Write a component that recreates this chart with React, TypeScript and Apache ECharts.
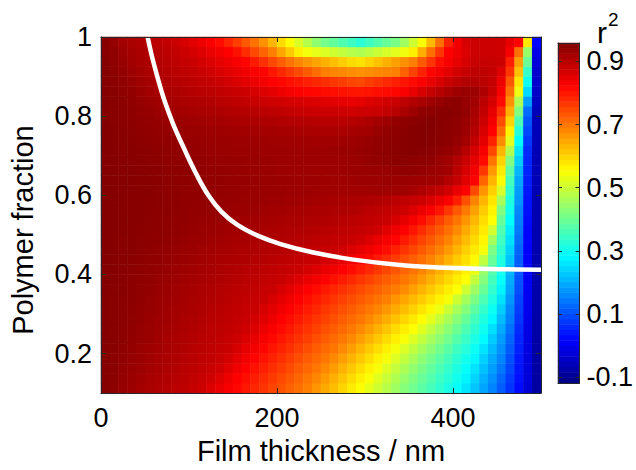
import React, { useEffect, useRef } from 'react';
import * as echarts from 'echarts';

// Film thickness bin centres (nm), 10 nm wide
const thicknessBins = [
  5, 15, 25, 35, 45, 55, 65, 75, 85, 95, 105, 115, 125, 135, 145, 155, 165, 175, 185, 195, 205, 215, 225, 235, 245,
  255, 265, 275, 285, 295, 305, 315, 325, 335, 345, 355, 365, 375, 385, 395, 405, 415, 425, 435, 445, 455, 465, 475, 485, 495,
];
// Polymer fraction bin centres, 0.025 high
const fractionBins = [
  0.1125, 0.1375, 0.1625, 0.1875, 0.2125, 0.2375, 0.2625, 0.2875, 0.3125, 0.3375, 0.3625, 0.3875,
  0.4125, 0.4375, 0.4625, 0.4875, 0.5125, 0.5375, 0.5625, 0.5875, 0.6125, 0.6375, 0.6625, 0.6875,
  0.7125, 0.7375, 0.7625, 0.7875, 0.8125, 0.8375, 0.8625, 0.8875, 0.9125, 0.9375, 0.9625, 0.9875,
];

// r² for each fraction row (bottom to top), one value per thickness bin
const r2Rows: number[][] = [
  [0.951, 0.943, 0.935, 0.928, 0.920, 0.915, 0.909, 0.903, 0.897, 0.891, 0.885, 0.876, 0.861, 0.846, 0.831, 0.816, 0.800, 0.785, 0.769, 0.753, 0.737, 0.721, 0.706, 0.690, 0.667, 0.644, 0.622, 0.599, 0.576, 0.553, 0.528, 0.503, 0.478, 0.452, 0.426, 0.403, 0.381, 0.358, 0.336, 0.313, 0.291, 0.259, 0.224, 0.190, 0.155, 0.113, 0.070, 0.026, -0.027, -0.082],
  [0.951, 0.944, 0.937, 0.930, 0.924, 0.918, 0.912, 0.907, 0.901, 0.895, 0.889, 0.883, 0.872, 0.857, 0.841, 0.825, 0.810, 0.794, 0.779, 0.763, 0.748, 0.732, 0.716, 0.701, 0.683, 0.661, 0.638, 0.616, 0.593, 0.571, 0.549, 0.522, 0.496, 0.470, 0.444, 0.418, 0.395, 0.372, 0.348, 0.325, 0.302, 0.276, 0.240, 0.204, 0.168, 0.126, 0.079, 0.032, -0.023, -0.081],
  [0.952, 0.946, 0.939, 0.933, 0.927, 0.921, 0.916, 0.910, 0.905, 0.899, 0.894, 0.888, 0.883, 0.872, 0.855, 0.838, 0.822, 0.806, 0.791, 0.775, 0.760, 0.745, 0.729, 0.714, 0.698, 0.680, 0.658, 0.636, 0.614, 0.591, 0.569, 0.546, 0.519, 0.492, 0.466, 0.439, 0.413, 0.388, 0.364, 0.340, 0.316, 0.291, 0.257, 0.220, 0.183, 0.142, 0.089, 0.036, -0.021, -0.080],
  [0.953, 0.947, 0.941, 0.935, 0.929, 0.923, 0.918, 0.913, 0.908, 0.903, 0.898, 0.892, 0.887, 0.882, 0.870, 0.853, 0.836, 0.820, 0.804, 0.789, 0.774, 0.758, 0.743, 0.728, 0.713, 0.698, 0.679, 0.657, 0.634, 0.612, 0.590, 0.568, 0.545, 0.517, 0.490, 0.462, 0.435, 0.408, 0.383, 0.357, 0.331, 0.305, 0.277, 0.237, 0.196, 0.156, 0.100, 0.041, -0.019, -0.080],
  [0.953, 0.948, 0.943, 0.937, 0.932, 0.926, 0.921, 0.916, 0.911, 0.906, 0.901, 0.896, 0.891, 0.886, 0.881, 0.866, 0.850, 0.834, 0.818, 0.803, 0.788, 0.773, 0.758, 0.743, 0.728, 0.713, 0.698, 0.679, 0.657, 0.634, 0.612, 0.590, 0.568, 0.544, 0.517, 0.489, 0.461, 0.434, 0.406, 0.379, 0.351, 0.324, 0.296, 0.258, 0.213, 0.168, 0.112, 0.049, -0.015, -0.079],
  [0.953, 0.948, 0.944, 0.939, 0.934, 0.929, 0.923, 0.918, 0.914, 0.909, 0.904, 0.899, 0.895, 0.890, 0.884, 0.878, 0.863, 0.847, 0.831, 0.816, 0.801, 0.786, 0.772, 0.757, 0.742, 0.727, 0.712, 0.697, 0.679, 0.657, 0.635, 0.613, 0.592, 0.570, 0.547, 0.519, 0.490, 0.461, 0.433, 0.404, 0.374, 0.344, 0.314, 0.282, 0.232, 0.181, 0.123, 0.054, -0.013, -0.078],
  [0.953, 0.949, 0.945, 0.941, 0.936, 0.931, 0.926, 0.921, 0.916, 0.912, 0.907, 0.902, 0.897, 0.893, 0.888, 0.883, 0.875, 0.859, 0.844, 0.828, 0.813, 0.799, 0.784, 0.770, 0.755, 0.741, 0.726, 0.712, 0.697, 0.679, 0.658, 0.637, 0.616, 0.594, 0.573, 0.552, 0.522, 0.492, 0.461, 0.431, 0.399, 0.366, 0.333, 0.300, 0.253, 0.196, 0.135, 0.061, -0.010, -0.077],
  [0.953, 0.949, 0.946, 0.942, 0.938, 0.933, 0.928, 0.923, 0.919, 0.914, 0.910, 0.905, 0.900, 0.896, 0.891, 0.886, 0.882, 0.870, 0.856, 0.841, 0.826, 0.811, 0.797, 0.783, 0.769, 0.755, 0.740, 0.726, 0.712, 0.698, 0.681, 0.660, 0.640, 0.619, 0.598, 0.578, 0.557, 0.528, 0.495, 0.462, 0.428, 0.392, 0.355, 0.318, 0.279, 0.215, 0.150, 0.071, -0.005, -0.075],
  [0.953, 0.950, 0.946, 0.943, 0.939, 0.935, 0.930, 0.925, 0.921, 0.917, 0.912, 0.908, 0.903, 0.899, 0.894, 0.890, 0.885, 0.881, 0.867, 0.853, 0.838, 0.824, 0.810, 0.796, 0.782, 0.768, 0.754, 0.740, 0.727, 0.713, 0.699, 0.684, 0.664, 0.644, 0.624, 0.603, 0.583, 0.563, 0.537, 0.499, 0.461, 0.424, 0.382, 0.340, 0.298, 0.234, 0.161, 0.079, -0.002, -0.074],
  [0.953, 0.950, 0.947, 0.944, 0.941, 0.936, 0.931, 0.927, 0.923, 0.919, 0.915, 0.911, 0.906, 0.902, 0.898, 0.893, 0.889, 0.884, 0.880, 0.866, 0.851, 0.837, 0.823, 0.809, 0.796, 0.783, 0.769, 0.756, 0.743, 0.729, 0.716, 0.703, 0.689, 0.669, 0.649, 0.629, 0.608, 0.588, 0.568, 0.546, 0.502, 0.459, 0.415, 0.366, 0.317, 0.256, 0.174, 0.087, 0.001, -0.073],
  [0.954, 0.950, 0.948, 0.945, 0.942, 0.938, 0.934, 0.929, 0.925, 0.921, 0.917, 0.913, 0.909, 0.905, 0.901, 0.897, 0.893, 0.888, 0.884, 0.880, 0.866, 0.852, 0.839, 0.825, 0.812, 0.798, 0.785, 0.772, 0.759, 0.746, 0.733, 0.720, 0.707, 0.694, 0.676, 0.655, 0.634, 0.614, 0.593, 0.573, 0.552, 0.503, 0.451, 0.397, 0.338, 0.276, 0.189, 0.097, 0.005, -0.072],
  [0.954, 0.951, 0.948, 0.945, 0.943, 0.940, 0.936, 0.932, 0.928, 0.923, 0.920, 0.916, 0.913, 0.909, 0.905, 0.901, 0.897, 0.893, 0.889, 0.885, 0.881, 0.871, 0.859, 0.846, 0.834, 0.822, 0.808, 0.795, 0.781, 0.767, 0.754, 0.740, 0.726, 0.713, 0.699, 0.682, 0.661, 0.639, 0.617, 0.596, 0.574, 0.552, 0.490, 0.423, 0.357, 0.292, 0.198, 0.102, 0.008, -0.071],
  [0.954, 0.951, 0.948, 0.946, 0.943, 0.941, 0.938, 0.934, 0.930, 0.926, 0.922, 0.919, 0.916, 0.913, 0.909, 0.906, 0.903, 0.899, 0.895, 0.891, 0.888, 0.884, 0.880, 0.869, 0.858, 0.847, 0.836, 0.825, 0.812, 0.797, 0.781, 0.765, 0.750, 0.734, 0.718, 0.703, 0.685, 0.662, 0.639, 0.615, 0.592, 0.569, 0.533, 0.449, 0.375, 0.306, 0.209, 0.107, 0.012, -0.069],
  [0.954, 0.952, 0.949, 0.947, 0.945, 0.942, 0.940, 0.936, 0.933, 0.929, 0.926, 0.922, 0.919, 0.916, 0.913, 0.911, 0.908, 0.904, 0.901, 0.898, 0.894, 0.891, 0.888, 0.884, 0.881, 0.871, 0.860, 0.849, 0.838, 0.828, 0.815, 0.797, 0.778, 0.760, 0.742, 0.724, 0.706, 0.687, 0.662, 0.637, 0.611, 0.586, 0.560, 0.488, 0.394, 0.319, 0.223, 0.114, 0.012, -0.069],
  [0.954, 0.952, 0.950, 0.948, 0.946, 0.943, 0.941, 0.939, 0.935, 0.932, 0.929, 0.925, 0.922, 0.919, 0.917, 0.914, 0.911, 0.909, 0.906, 0.904, 0.901, 0.898, 0.894, 0.891, 0.888, 0.884, 0.881, 0.873, 0.861, 0.849, 0.838, 0.826, 0.810, 0.790, 0.770, 0.750, 0.730, 0.710, 0.690, 0.662, 0.634, 0.605, 0.577, 0.544, 0.416, 0.335, 0.238, 0.123, 0.016, -0.068],
  [0.954, 0.952, 0.950, 0.948, 0.946, 0.944, 0.943, 0.941, 0.938, 0.935, 0.932, 0.929, 0.926, 0.923, 0.920, 0.918, 0.916, 0.914, 0.911, 0.909, 0.907, 0.904, 0.901, 0.898, 0.895, 0.891, 0.888, 0.885, 0.882, 0.873, 0.860, 0.846, 0.833, 0.819, 0.797, 0.775, 0.753, 0.732, 0.710, 0.687, 0.656, 0.625, 0.594, 0.563, 0.458, 0.353, 0.254, 0.133, 0.020, -0.067],
  [0.954, 0.952, 0.951, 0.949, 0.947, 0.945, 0.944, 0.942, 0.940, 0.938, 0.935, 0.932, 0.929, 0.927, 0.924, 0.922, 0.919, 0.917, 0.915, 0.913, 0.911, 0.909, 0.907, 0.905, 0.902, 0.899, 0.896, 0.892, 0.889, 0.885, 0.882, 0.872, 0.856, 0.839, 0.823, 0.801, 0.777, 0.753, 0.730, 0.706, 0.678, 0.644, 0.610, 0.576, 0.507, 0.370, 0.267, 0.144, 0.020, -0.067],
  [0.954, 0.953, 0.951, 0.949, 0.948, 0.946, 0.945, 0.943, 0.941, 0.940, 0.937, 0.935, 0.933, 0.931, 0.928, 0.926, 0.924, 0.922, 0.920, 0.918, 0.916, 0.914, 0.912, 0.910, 0.908, 0.906, 0.904, 0.900, 0.896, 0.892, 0.889, 0.885, 0.881, 0.867, 0.849, 0.832, 0.810, 0.783, 0.755, 0.728, 0.701, 0.667, 0.629, 0.590, 0.552, 0.393, 0.285, 0.150, 0.026, -0.066],
  [0.954, 0.953, 0.951, 0.950, 0.948, 0.947, 0.945, 0.944, 0.942, 0.941, 0.939, 0.938, 0.936, 0.934, 0.932, 0.930, 0.929, 0.927, 0.925, 0.923, 0.922, 0.920, 0.918, 0.916, 0.914, 0.912, 0.910, 0.908, 0.906, 0.902, 0.897, 0.893, 0.888, 0.883, 0.876, 0.860, 0.844, 0.828, 0.802, 0.767, 0.731, 0.695, 0.653, 0.609, 0.565, 0.420, 0.303, 0.157, 0.032, -0.064],
  [0.954, 0.953, 0.951, 0.950, 0.949, 0.947, 0.946, 0.944, 0.943, 0.941, 0.940, 0.939, 0.938, 0.936, 0.935, 0.934, 0.932, 0.931, 0.930, 0.928, 0.927, 0.925, 0.924, 0.923, 0.921, 0.919, 0.917, 0.915, 0.913, 0.911, 0.909, 0.907, 0.903, 0.897, 0.891, 0.885, 0.878, 0.862, 0.845, 0.828, 0.793, 0.739, 0.685, 0.633, 0.581, 0.463, 0.317, 0.173, 0.034, -0.064],
  [0.954, 0.953, 0.952, 0.950, 0.949, 0.948, 0.946, 0.945, 0.944, 0.942, 0.941, 0.940, 0.939, 0.937, 0.936, 0.935, 0.933, 0.932, 0.931, 0.930, 0.929, 0.928, 0.927, 0.926, 0.925, 0.924, 0.923, 0.923, 0.924, 0.924, 0.924, 0.925, 0.925, 0.924, 0.923, 0.918, 0.909, 0.899, 0.888, 0.872, 0.847, 0.822, 0.745, 0.668, 0.604, 0.515, 0.335, 0.182, 0.041, -0.062],
  [0.954, 0.953, 0.952, 0.951, 0.949, 0.948, 0.947, 0.945, 0.944, 0.943, 0.942, 0.940, 0.939, 0.938, 0.936, 0.935, 0.934, 0.933, 0.932, 0.931, 0.930, 0.929, 0.928, 0.928, 0.927, 0.926, 0.925, 0.925, 0.926, 0.927, 0.928, 0.928, 0.929, 0.930, 0.929, 0.928, 0.926, 0.925, 0.922, 0.903, 0.885, 0.854, 0.820, 0.716, 0.633, 0.558, 0.357, 0.192, 0.047, -0.060],
  [0.954, 0.953, 0.952, 0.951, 0.949, 0.948, 0.947, 0.945, 0.944, 0.943, 0.942, 0.940, 0.939, 0.937, 0.936, 0.935, 0.933, 0.932, 0.930, 0.929, 0.928, 0.927, 0.927, 0.927, 0.926, 0.926, 0.927, 0.928, 0.929, 0.930, 0.932, 0.933, 0.934, 0.937, 0.941, 0.941, 0.937, 0.932, 0.927, 0.922, 0.896, 0.867, 0.836, 0.766, 0.664, 0.576, 0.384, 0.209, 0.051, -0.060],
  [0.954, 0.953, 0.951, 0.950, 0.948, 0.946, 0.945, 0.943, 0.942, 0.941, 0.940, 0.939, 0.937, 0.936, 0.935, 0.934, 0.932, 0.931, 0.930, 0.929, 0.928, 0.928, 0.928, 0.928, 0.927, 0.927, 0.927, 0.927, 0.929, 0.932, 0.936, 0.939, 0.942, 0.944, 0.946, 0.944, 0.942, 0.940, 0.932, 0.924, 0.904, 0.879, 0.849, 0.814, 0.701, 0.600, 0.420, 0.231, 0.055, -0.060],
  [0.954, 0.952, 0.950, 0.949, 0.947, 0.946, 0.944, 0.942, 0.940, 0.939, 0.937, 0.936, 0.934, 0.932, 0.931, 0.930, 0.929, 0.929, 0.928, 0.928, 0.927, 0.927, 0.927, 0.926, 0.927, 0.928, 0.929, 0.930, 0.931, 0.934, 0.937, 0.940, 0.943, 0.946, 0.949, 0.952, 0.949, 0.946, 0.942, 0.937, 0.925, 0.899, 0.866, 0.832, 0.747, 0.632, 0.472, 0.256, 0.060, -0.060],
  [0.954, 0.952, 0.950, 0.947, 0.945, 0.943, 0.941, 0.940, 0.938, 0.936, 0.935, 0.933, 0.932, 0.930, 0.929, 0.928, 0.927, 0.926, 0.926, 0.925, 0.925, 0.924, 0.923, 0.923, 0.922, 0.923, 0.924, 0.926, 0.927, 0.930, 0.934, 0.938, 0.942, 0.945, 0.948, 0.952, 0.955, 0.951, 0.947, 0.943, 0.936, 0.919, 0.888, 0.851, 0.788, 0.676, 0.524, 0.285, 0.074, -0.058],
  [0.954, 0.951, 0.948, 0.946, 0.943, 0.941, 0.939, 0.937, 0.935, 0.933, 0.932, 0.930, 0.928, 0.926, 0.925, 0.923, 0.922, 0.921, 0.920, 0.919, 0.918, 0.917, 0.916, 0.915, 0.914, 0.913, 0.912, 0.914, 0.917, 0.919, 0.922, 0.931, 0.939, 0.943, 0.947, 0.951, 0.954, 0.954, 0.950, 0.945, 0.941, 0.927, 0.901, 0.865, 0.822, 0.713, 0.566, 0.322, 0.091, -0.056],
  [0.953, 0.950, 0.947, 0.944, 0.941, 0.938, 0.936, 0.933, 0.931, 0.928, 0.926, 0.923, 0.921, 0.919, 0.917, 0.915, 0.913, 0.911, 0.910, 0.908, 0.906, 0.904, 0.903, 0.902, 0.900, 0.899, 0.898, 0.899, 0.902, 0.905, 0.912, 0.920, 0.928, 0.937, 0.943, 0.946, 0.950, 0.954, 0.950, 0.946, 0.942, 0.931, 0.908, 0.878, 0.835, 0.743, 0.600, 0.366, 0.107, -0.056],
  [0.953, 0.950, 0.946, 0.943, 0.939, 0.935, 0.930, 0.926, 0.922, 0.920, 0.917, 0.915, 0.912, 0.910, 0.907, 0.905, 0.902, 0.899, 0.896, 0.893, 0.890, 0.887, 0.884, 0.881, 0.879, 0.878, 0.877, 0.876, 0.875, 0.876, 0.878, 0.880, 0.888, 0.899, 0.912, 0.926, 0.940, 0.943, 0.947, 0.950, 0.945, 0.938, 0.916, 0.888, 0.849, 0.777, 0.638, 0.420, 0.131, -0.056],
  [0.953, 0.949, 0.945, 0.941, 0.936, 0.930, 0.925, 0.920, 0.917, 0.914, 0.911, 0.908, 0.905, 0.900, 0.896, 0.891, 0.887, 0.882, 0.878, 0.875, 0.872, 0.869, 0.866, 0.862, 0.859, 0.856, 0.853, 0.850, 0.847, 0.849, 0.857, 0.864, 0.872, 0.880, 0.893, 0.905, 0.915, 0.925, 0.935, 0.942, 0.945, 0.934, 0.922, 0.897, 0.866, 0.814, 0.672, 0.472, 0.184, -0.048],
  [0.953, 0.948, 0.943, 0.938, 0.930, 0.922, 0.918, 0.914, 0.911, 0.907, 0.903, 0.899, 0.895, 0.890, 0.886, 0.882, 0.876, 0.867, 0.859, 0.851, 0.842, 0.834, 0.826, 0.819, 0.816, 0.812, 0.809, 0.806, 0.802, 0.801, 0.805, 0.810, 0.814, 0.818, 0.829, 0.848, 0.867, 0.885, 0.900, 0.915, 0.926, 0.933, 0.927, 0.909, 0.883, 0.831, 0.704, 0.536, 0.246, -0.042],
  [0.952, 0.947, 0.941, 0.934, 0.926, 0.919, 0.914, 0.909, 0.904, 0.899, 0.894, 0.889, 0.885, 0.880, 0.871, 0.862, 0.852, 0.843, 0.834, 0.825, 0.816, 0.808, 0.800, 0.791, 0.783, 0.775, 0.767, 0.759, 0.751, 0.748, 0.759, 0.770, 0.781, 0.792, 0.803, 0.814, 0.829, 0.847, 0.865, 0.882, 0.893, 0.904, 0.905, 0.894, 0.884, 0.844, 0.733, 0.581, 0.300, -0.038],
  [0.952, 0.945, 0.937, 0.927, 0.919, 0.914, 0.909, 0.903, 0.898, 0.892, 0.887, 0.882, 0.874, 0.865, 0.856, 0.847, 0.838, 0.829, 0.820, 0.801, 0.783, 0.764, 0.746, 0.727, 0.709, 0.690, 0.685, 0.680, 0.675, 0.671, 0.676, 0.681, 0.685, 0.690, 0.723, 0.755, 0.788, 0.820, 0.837, 0.854, 0.871, 0.884, 0.891, 0.892, 0.885, 0.860, 0.768, 0.620, 0.343, -0.034],
  [0.951, 0.942, 0.933, 0.922, 0.916, 0.910, 0.904, 0.898, 0.892, 0.886, 0.880, 0.870, 0.860, 0.850, 0.840, 0.830, 0.820, 0.796, 0.773, 0.749, 0.725, 0.702, 0.682, 0.667, 0.652, 0.637, 0.622, 0.607, 0.592, 0.584, 0.601, 0.619, 0.637, 0.655, 0.672, 0.690, 0.729, 0.769, 0.808, 0.830, 0.849, 0.866, 0.881, 0.884, 0.883, 0.880, 0.794, 0.655, 0.398, -0.023],
  [0.950, 0.940, 0.928, 0.919, 0.913, 0.907, 0.900, 0.894, 0.887, 0.880, 0.869, 0.858, 0.847, 0.836, 0.825, 0.806, 0.777, 0.748, 0.719, 0.690, 0.650, 0.610, 0.570, 0.543, 0.530, 0.517, 0.503, 0.490, 0.477, 0.469, 0.483, 0.497, 0.512, 0.526, 0.540, 0.571, 0.641, 0.708, 0.767, 0.822, 0.841, 0.860, 0.878, 0.877, 0.876, 0.875, 0.833, 0.706, 0.446, -0.010],
  [0.949, 0.936, 0.922, 0.915, 0.908, 0.901, 0.894, 0.887, 0.880, 0.867, 0.854, 0.842, 0.829, 0.812, 0.785, 0.758, 0.731, 0.704, 0.671, 0.632, 0.593, 0.554, 0.515, 0.475, 0.436, 0.408, 0.389, 0.369, 0.350, 0.330, 0.351, 0.372, 0.393, 0.414, 0.454, 0.502, 0.550, 0.628, 0.706, 0.788, 0.837, 0.866, 0.879, 0.878, 0.876, 0.875, 0.848, 0.820, 0.578, 0.020],
];

// Optimum polymer fraction for each film thickness (white curve)
const optimumThickness = [53, 58, 64, 72, 82, 94, 108, 122, 137, 155, 178, 205, 240, 285, 340, 400, 460, 500];
const optimumFraction = [1.0, 0.95, 0.9, 0.84, 0.78, 0.72, 0.655, 0.6, 0.558, 0.525, 0.498, 0.476, 0.456, 0.438, 0.424, 0.416, 0.413, 0.412];

// Axis ticks and colour scale
const thicknessTicks = [0, 200, 400];
const fractionTicks = [0.2, 0.4, 0.6, 0.8, 1];
const r2Ticks = [-0.1, 0.1, 0.3, 0.5, 0.7, 0.9];
const r2Range = [-0.118, 0.958];
const jetColors = ['#000080', '#0000ff', '#0080ff', '#00ffff', '#80ff80', '#ffff00', '#ff8000', '#ff0000', '#800000'];
const colorbarSteps = 64;

const FONT = 'Liberation Sans, Arial, Helvetica, sans-serif';
const FRAME = '#262626';

function buildOption(): echarts.EChartsOption {
  const heatData: number[][] = [];
  r2Rows.forEach((row, yi) => row.forEach((v, xi) => heatData.push([xi, yi, v])));

  // colour bar: one cell per colormap entry
  const step = (r2Range[1] - r2Range[0]) / colorbarSteps;
  const colorbarLevels = Array.from({ length: colorbarSteps }, (_, i) => r2Range[0] + (i + 0.5) * step);
  const colorbarData = colorbarLevels.map((v, i) => [0, i, v]);

  const frameLine = { show: true, onZero: false, lineStyle: { color: FRAME, width: 1 } };
  const innerTick = (values: number[], length = 5) => ({
    show: true,
    inside: true,
    length,
    customValues: values,
    lineStyle: { color: FRAME, width: 1 },
  });
  const tickLabel = (values: number[], margin: number, fontSize: number) => ({
    show: true,
    customValues: values,
    margin,
    color: '#000',
    fontSize,
    fontFamily: FONT,
  });
  const noLabel = { show: false };
  const noSplit = { show: false };

  return {
    animation: false,
    backgroundColor: '#fff',
    grid: [
      { left: 101, top: 37, width: 440, height: 360, containLabel: false },
      { left: 558, top: 43, width: 22, height: 340, containLabel: false },
    ],
    visualMap: {
      type: 'continuous',
      show: false,
      min: r2Range[0],
      max: r2Range[1],
      seriesIndex: [0, 2],
      inRange: { color: jetColors },
    },
    xAxis: [
      { type: 'category', gridIndex: 0, position: 'bottom', data: thicknessBins, show: false },
      {
        type: 'value', gridIndex: 0, position: 'bottom', min: 0, max: 500, z: 5,
        axisLine: frameLine, axisTick: innerTick(thicknessTicks),
        axisLabel: tickLabel(thicknessTicks, 11, 27), splitLine: noSplit,
        name: 'Film thickness / nm', nameLocation: 'middle', nameGap: 39,
        nameTextStyle: { color: '#000', fontSize: 29, fontFamily: FONT },
      },
      {
        type: 'value', gridIndex: 0, position: 'top', min: 0, max: 500, z: 5,
        axisLine: frameLine, axisTick: innerTick(thicknessTicks), axisLabel: noLabel, splitLine: noSplit,
      },
      { type: 'category', gridIndex: 1, position: 'bottom', data: ['r2'], show: false },
      {
        type: 'value', gridIndex: 1, position: 'bottom', min: 0, max: 1, z: 5,
        axisLine: frameLine, axisTick: { show: false }, axisLabel: noLabel, splitLine: noSplit,
      },
      {
        type: 'value', gridIndex: 1, position: 'top', min: 0, max: 1, z: 5,
        axisLine: frameLine, axisTick: { show: false }, axisLabel: noLabel, splitLine: noSplit,
      },
    ],
    yAxis: [
      { type: 'category', gridIndex: 0, position: 'left', data: fractionBins, show: false },
      {
        type: 'value', gridIndex: 0, position: 'left', min: 0.1, max: 1, z: 5,
        axisLine: frameLine, axisTick: innerTick(fractionTicks),
        axisLabel: tickLabel(fractionTicks, 9, 27), splitLine: noSplit,
        name: 'Polymer fraction', nameLocation: 'middle', nameGap: 64, nameRotate: 90,
        nameTextStyle: { color: '#000', fontSize: 29, fontFamily: FONT, padding: [0, 30, 0, 0] },
      },
      {
        type: 'value', gridIndex: 0, position: 'right', min: 0.1, max: 1, z: 5,
        axisLine: frameLine, axisTick: innerTick(fractionTicks), axisLabel: noLabel, splitLine: noSplit,
      },
      { type: 'category', gridIndex: 1, position: 'left', data: colorbarLevels.map((_, i) => i), show: false },
      {
        type: 'value', gridIndex: 1, position: 'left', min: r2Range[0], max: r2Range[1], z: 5,
        axisLine: frameLine, axisTick: innerTick(r2Ticks, 4), axisLabel: noLabel, splitLine: noSplit,
      },
      {
        type: 'value', gridIndex: 1, position: 'right', min: r2Range[0], max: r2Range[1], z: 5,
        axisLine: frameLine, axisTick: innerTick(r2Ticks, 4),
        axisLabel: tickLabel(r2Ticks, 7, 27), splitLine: noSplit,
      },
    ],
    graphic: [
      {
        type: 'text', x: 597, y: 32,
        style: { text: 'r', fontSize: 30, fontFamily: FONT, fill: '#000', align: 'left', verticalAlign: 'middle' },
      },
      {
        type: 'text', x: 608, y: 19.5,
        style: { text: '2', fontSize: 19, fontFamily: FONT, fill: '#000', align: 'left', verticalAlign: 'middle' },
      },
    ],
    series: [
      {
        type: 'heatmap',
        xAxisIndex: 0,
        yAxisIndex: 0,
        data: heatData,
        itemStyle: { borderWidth: 0 },
        emphasis: { disabled: true },
        progressive: 0,
      },
      {
        type: 'line',
        xAxisIndex: 1,
        yAxisIndex: 1,
        data: optimumThickness.map((t, i) => [t, optimumFraction[i]]),
        smooth: 0.4,
        showSymbol: false,
        symbol: 'none',
        lineStyle: { color: '#fff', width: 4.5, cap: 'butt' },
        z: 3,
      },
      {
        type: 'heatmap',
        xAxisIndex: 3,
        yAxisIndex: 3,
        data: colorbarData,
        itemStyle: { borderWidth: 0 },
        emphasis: { disabled: true },
        progressive: 0,
      },
    ],
  } as echarts.EChartsOption;
}

export default function App() {
  const ref = useRef<HTMLDivElement>(null);

  useEffect(() => {
    if (!ref.current) return;
    const chart = echarts.init(ref.current, null, { renderer: 'svg' });
    chart.setOption(buildOption());
    return () => chart.dispose();
  }, []);

  return (
    <div
      ref={ref}
      style={{ position: 'fixed', left: 0, top: 0, width: 636, height: 470, background: '#fff' }}
    />
  );
}
